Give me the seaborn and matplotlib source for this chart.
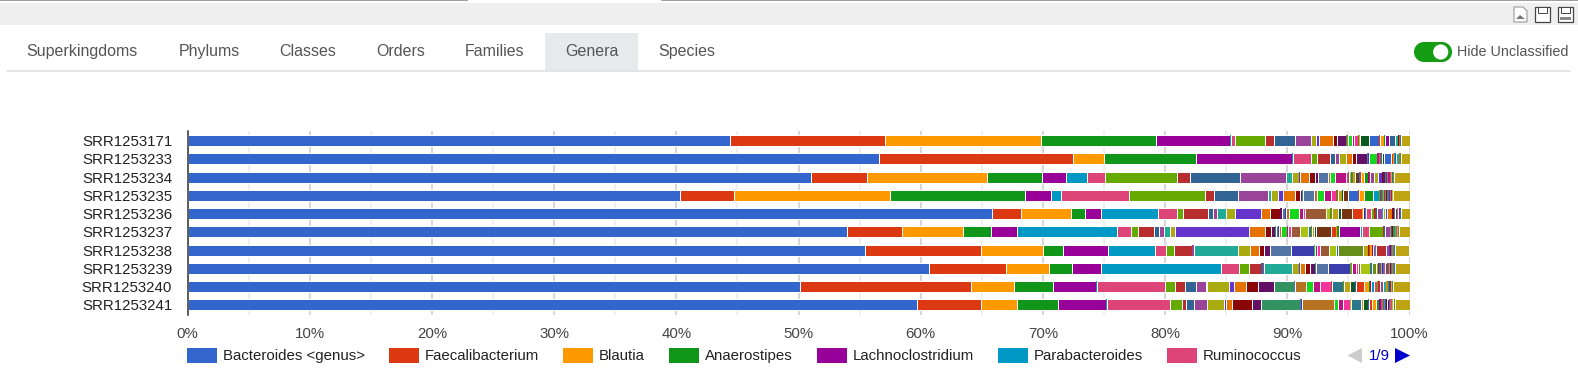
import numpy as np
import matplotlib
matplotlib.use('Agg')
import matplotlib.pyplot as plt
from matplotlib.patches import Rectangle, Polygon, Circle
import seaborn as sns

W, H = 1578, 384

samples = ['SRR1253171', 'SRR1253233', 'SRR1253234', 'SRR1253235', 'SRR1253236',
           'SRR1253237', 'SRR1253238', 'SRR1253239', 'SRR1253240', 'SRR1253241']
legend_names = ['Bacteroides <genus>', 'Faecalibacterium', 'Blautia', 'Anaerostipes',
                'Lachnoclostridium', 'Parabacteroides', 'Ruminococcus']
tabs = ['Superkingdoms', 'Phylums', 'Classes', 'Orders', 'Families', 'Genera', 'Species']
x_ticks = [0, 10, 20, 30, 40, 50, 60, 70, 80, 90, 100]

# google charts colours, the cycle goes round twice over the 60 genera
base_colors = ['#3366cc', '#dc3912', '#ff9900', '#109618', '#990099', '#0099c6', '#dd4477',
               '#66aa00', '#b82e2e', '#316395', '#994499', '#22aa99', '#aaaa11', '#6633cc',
               '#e67300', '#8b0707', '#651067', '#329262', '#5574a6', '#3b3eac', '#b77322',
               '#16d620', '#b91383', '#f4359e', '#9c5935', '#a9c413', '#2a778d', '#668d1c',
               '#bea413', '#0c5922', '#743411']
colors = (base_colors + base_colors)[:60]

# percent per genus
srr171 = [44.43, 12.68, 12.76, 9.41, 6.00, .08, .33, 2.45, .74, 1.76,
          1.27, .03, .41, .25, 1.15, .33, .74, .04, .03, .02,
          .02, .34, .16, .39, .08, .02, .01, .01, .01, .70,
          .02, .84, .08, .35, .02, .33, .01, .01, .01, .01,
          .49, .02, .22, .01, .01, .01, .01, .01, .03, .01,
          .01, .03, .01, .01, .01, .01, .02, .02, .03, .70]
srr233 = [56.56, 15.93, 2.54, 7.47, 7.85, .08, 1.47, .57, 1.06, .41,
          .29, .04, .53, .03, .49, .33, .86, .04, .08, .03,
          .03, .68, .11, .14, .06, .02, .02, .02, .02, .16,
          .03, .55, .18, .03, .03, .02, .02, .02, .02, .02,
          .06, .02, .18, .01, .01, .01, .01, .01, .01, .01,
          .01, .01, .01, .01, .01, .01, .01, .01, .05, .70]
srr234 = [51.0, 4.64, 9.76, 4.50, 1.96, 1.72, 1.47, 5.89, 1.06, 4.17,
          3.76, .49, .57, .08, .74, .49, .22, .03, .78, .02,
          .18, .41, .86, .20, .06, .16, .04, .12, .12, .07,
          .29, .08, .07, .30, .33, .02, .02, .02, .02, .02,
          .04, .33, .02, .33, .25, .06, .06, .13, .06, .06,
          .06, .06, .06, .13, .06, .06, .06, .06, .12, 1.25]
srr235 = [40.29, 4.42, 12.76, 11.04, 2.13, .82, 5.56, 6.22, .74, 1.96,
          2.45, .25, .57, .41, .98, .41, .16, .08, .90, .02,
          .23, .57, .57, .41, .08, .03, .03, .03, .33, .12,
          .41, .82, .04, .45, .70, .04, .45, .04, .08, .08,
          .04, .04, .04, .12, .08, .08, .04, .04, .08, .12,
          .04, .07, .03, .04, .03, .03, .03, .03, .03, 1.31]
srr236 = [65.73, 2.37, 4.09, 1.15, 1.31, 4.66, 1.55, .49, 2.05, .41,
          .33, .74, .74, 2.13, .74, .82, .12, .04, .25, .04,
          .25, .86, .29, .16, 1.76, .28, .07, .10, .52, .20,
          .90, .04, .82, .04, .16, .03, .12, .41, .25, .10,
          .13, .41, .03, .16, .16, .49, .04, .08, .03, .08,
          .16, .02, .16, .02, .02, .02, .02, .02, .02, .70]
srr237 = [53.95, 4.50, 4.99, 2.29, 2.13, 8.18, 1.15, .57, 1.31, .41,
          .41, .49, .41, 6.05, 1.31, .49, .33, .08, .20, .04,
          .16, .49, .12, .20, .74, .65, .29, .10, .15, .16,
          1.20, .03, .37, .12, .12, 1.72, .16, .57, 1.15, .12,
          .08, .41, .03, .04, .08, .04, .04, .04, .04, .07,
          .03, .03, .03, .03, .07, .03, .03, .03, .03, .90]
srr238 = [55.5, 9.49, 5.07, 1.64, 3.68, 3.84, .90, .65, 1.47, .03,
          .14, 3.60, .98, .04, .70, .41, .49, .03, 1.69, 1.88,
          .04, .08, .16, .25, .70, .61, .16, 2.05, .37, .08,
          .04, .03, .08, .12, .05, .04, .16, .06, .03, .82,
          .03, .20, .03, .03, .03, .03, .03, .03, .03, .03,
          .03, .03, .03, .03, .03, .03, .03, .03, .07, 1.15]
srr239 = [60.82, 6.30, 3.52, 1.88, 2.37, 9.90, 1.47, .82, .98, .12,
          .12, 2.29, .57, .04, .49, .33, .49, .04, 1.02, 1.80,
          .04, .12, .33, .16, .16, .82, .12, .33, .16, .04,
          .08, .12, .04, .06, .03, .03, .12, .08, .03, .16,
          .04, .08, .03, .03, .03, .03, .03, .03, .03, .03,
          .03, .03, .03, .03, .03, .03, .03, .03, .07, 1.15]
srr240 = [50.1, 13.99, 3.52, 3.19, 3.52, .08, 5.56, .82, .82, .90,
          .74, .16, 1.80, .33, 1.06, .98, 1.31, 1.60, .08, .03,
          .90, .57, .57, .90, .04, .03, .90, .03, .49, .45,
          .03, .06, .65, .41, .08, .08, .25, .25, .08, .12,
          .04, .25, .25, .03, .06, .03, .03, .03, .03, .03,
          .03, .03, .03, .03, .03, .03, .03, .03, .03, 1.39]
srr241 = [59.76, 5.24, 2.95, 3.35, 3.95, .06, 5.15, .98, .33, .65,
          1.06, .03, 1.39, .16, .49, 1.64, .74, 3.15, .12, .08,
          2.62, .33, .41, .57, .03, .03, .82, .03, .16, .37,
          .03, .08, .25, .29, .29, .12, .04, .08, .04, .04,
          .04, .08, .04, .03, .04, .03, .08, .16, .03, .03,
          .03, .03, .04, .03, .03, .03, .03, .16, .08, 1.15]

values = np.array([srr171, srr233, srr234, srr235, srr236,
                   srr237, srr238, srr239, srr240, srr241])
# it is a 100% stacked bar
values = values / values.sum(axis=1, keepdims=True) * 100

sns.set_theme(style='white')
plt.rcParams['font.family'] = ['Liberation Sans', 'DejaVu Sans']

fig = plt.figure(figsize=(W / 100, H / 100), dpi=100)

# page around the chart, in pixels
bg = fig.add_axes([0, 0, 1, 1])
bg.set_xlim(0, W)
bg.set_ylim(H, 0)
bg.axis('off')

bg.add_patch(Rectangle((0, 3), W, 22, fc='#efefef', ec='none'))
bg.add_patch(Rectangle((0, 0), 468, 1.2, fc='#a0a0a0', ec='none'))
bg.add_patch(Rectangle((661, 0), W - 661, 1.2, fc='#a0a0a0', ec='none'))

# save icons
bg.add_patch(Polygon([(1514, 7), (1523, 7), (1527, 11), (1527, 22), (1514, 22)],
                     fc='white', ec='#999999', lw=0.8))
bg.add_patch(Polygon([(1516, 19), (1520, 15), (1525, 19)], fc='#777777', ec='none'))
for x0 in [1535, 1558]:
    bg.add_patch(Polygon([(x0, 7), (x0 + 15, 7), (x0 + 15, 22), (x0, 22)],
                         fc='white', ec='#444444', lw=0.9))
    bg.add_patch(Rectangle((x0 + 3, 7), 9, 6, fc='white', ec='#444444', lw=0.7))
bg.add_patch(Rectangle((1560, 17), 11, 3, fc='#888888', ec='none'))

# tabs
tab_x = [26.5, 178.5, 279.5, 376, 465, 565, 658]
bg.add_patch(Rectangle((545, 33), 93, 38, fc='#e7e9eb', ec='none'))
bg.plot([7, 1570], [71, 71], color='#dddddd', lw=1.1)
for name, x0 in zip(tabs, tab_x):
    bg.text(x0, 51.5, name, fontsize=11.55, color='#555555', va='center', ha='left')

# toggle
bg.add_patch(Rectangle((1424, 42), 18, 20, fc='#149c12', ec='none'))
bg.add_patch(Circle((1424, 52), 10, fc='#149c12', ec='none'))
bg.add_patch(Circle((1442, 52), 10, fc='#149c12', ec='none'))
bg.add_patch(Circle((1440.7, 52), 7.6, fc='white', ec='none'))
bg.text(1457, 52, 'Hide Unclassified', fontsize=10.35, color='#555555', va='center', ha='left')

# legend row
swatch_x = [187, 389, 563, 669, 817, 998, 1167]
for name, x0, c in zip(legend_names, swatch_x, colors):
    bg.add_patch(Rectangle((x0, 348), 30, 15, fc=c, ec='none'))
    bg.text(x0 + 36, 356, name, fontsize=10.85, color='#222222', va='center', ha='left')

# pager
bg.add_patch(Polygon([(1362, 348), (1362, 363), (1347.5, 355.5)], fc='#cccccc', ec='none'))
bg.text(1369, 356, '1/9', fontsize=10.85, color='#0000cc', va='center', ha='left')
bg.add_patch(Polygon([(1395, 348), (1395, 363), (1410, 355.5)], fc='#0000cc', ec='none'))

# the chart
x0, x1, y0, y1 = 187.5, 1409.5, 130.5, 315
ax = fig.add_axes([x0 / W, 1 - y1 / H, (x1 - x0) / W, (y1 - y0) / H])
ax.patch.set_alpha(0)

left = np.zeros(len(samples))
for i, c in enumerate(colors):
    sns.barplot(x=values[:, i], y=samples, left=left, color=c, saturation=1, width=0.6,
                edgecolor='white', linewidth=0.72, errorbar=None, orient='h', ax=ax, zorder=3)
    left = left + values[:, i]

# slivers would be all white edge otherwise
for p in ax.patches:
    if p.get_width() < 0.15:
        p.set_linewidth(0)

ax.set_xlim(0, 100)
ax.set_ylim(9.55, -0.55)
ax.set_xlabel('')
ax.set_ylabel('')
ax.set_xticks(x_ticks)
ax.set_xticklabels([f'{t}%' for t in x_ticks])
ax.set_xticks(np.arange(5, 100, 10), minor=True)
ax.grid(True, axis='x', which='major', color='#cccccc', lw=1.1, zorder=0)
ax.grid(True, axis='x', which='minor', color='#ebebeb', lw=1.1, zorder=0)
ax.set_axisbelow(True)
sns.despine(ax=ax, top=True, right=True, bottom=True, left=False)
ax.spines['left'].set_color('#333333')
ax.spines['left'].set_linewidth(1.1)
ax.spines['left'].set_zorder(5)
ax.tick_params(axis='x', which='both', length=0, pad=9, labelsize=10.8, labelcolor='#444444')
ax.tick_params(axis='y', length=0, pad=11, labelsize=10.85, labelcolor='#222222')
for lab in ax.get_yticklabels():
    lab.set_y(lab.get_position()[1])

fig.savefig('out.png', dpi=100, facecolor='white')
